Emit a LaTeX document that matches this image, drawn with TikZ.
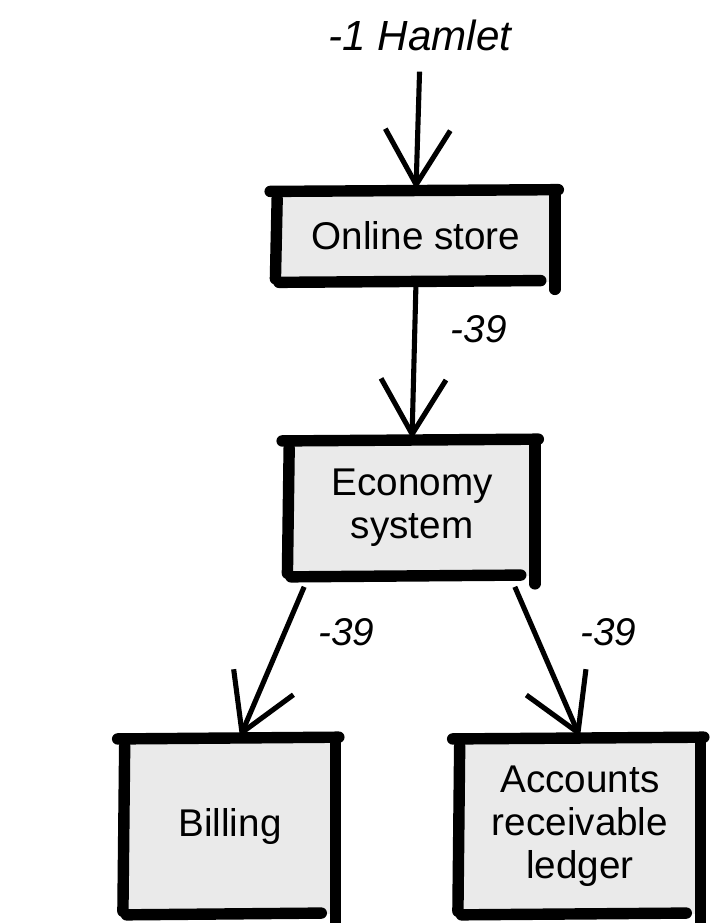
\documentclass[tikz,border=0pt]{standalone}
\usepackage{fontspec}
\setmainfont{Liberation Sans}
\usetikzlibrary{arrows.meta}
\definecolor{boxG}{RGB}{234,234,234}
\newcommand{\sketchbox}[1]{%
  \draw[rim] ([xshift=-4pt,yshift=-1pt]#1.north west) -- ([xshift=2pt]#1.north east);
  \draw[rim] ([yshift=-5pt]#1.north west) -- ([xshift=-1pt,yshift=2pt]#1.south west);
  \draw[rim] ([yshift=-3pt]#1.north east) -- ([yshift=-4pt]#1.south east);
  \draw[rim] ([xshift=1pt]#1.south west) -- ([xshift=-8pt,yshift=1pt]#1.south east);}

\begin{document}
\begin{tikzpicture}[x=0.02cm,y=-0.02cm,>={Straight Barb[length=11mm,width=13mm]},
  box/.style={fill=boxG,inner sep=0pt,align=center,font=\fontsize{22}{24.5}\selectfont},
  rim/.style={line width=6.5pt,line cap=round},
  arr/.style={->,line width=2.9pt},
  tag/.style={font=\itshape\fontsize{22}{24}\selectfont}]
\useasboundingbox (0,0) rectangle (712,923);
\node[font=\itshape\fontsize{24}{26}\selectfont] (hamlet) at (420,35) {-1 Hamlet};
\node[box,minimum width=5.54cm,minimum height=1.84cm] (store) at (416,236) {Online store};
\node[box,minimum width=4.9cm,minimum height=2.74cm] (eco) at (412,508) {Economy\\system};
\node[box,minimum width=4.2cm,minimum height=3.54cm] (bill) at (230,826) {Billing};
\node[box,minimum width=4.8cm,minimum height=3.54cm] (acc) at (580,826) {Accounts\\receivable\\ledger};
\sketchbox{store} \sketchbox{eco} \sketchbox{bill} \sketchbox{acc}
\draw[arr,shorten <=0.3cm] (hamlet.south) -- (store.north);
\draw[arr] (store.south) -- (eco.north) node[tag,pos=0.3,right=0.55cm] {-39};
\draw[arr] ([xshift=0.3cm,yshift=-0.2cm]eco.south west) -- ([xshift=0.2cm]bill.north) node[tag,pos=0.3,right=0.5cm] {-39};
\draw[arr] ([xshift=-0.4cm,yshift=-0.2cm]eco.south east) -- (acc.north) node[tag,pos=0.3,right=0.75cm] {-39};
\end{tikzpicture}
\end{document}
